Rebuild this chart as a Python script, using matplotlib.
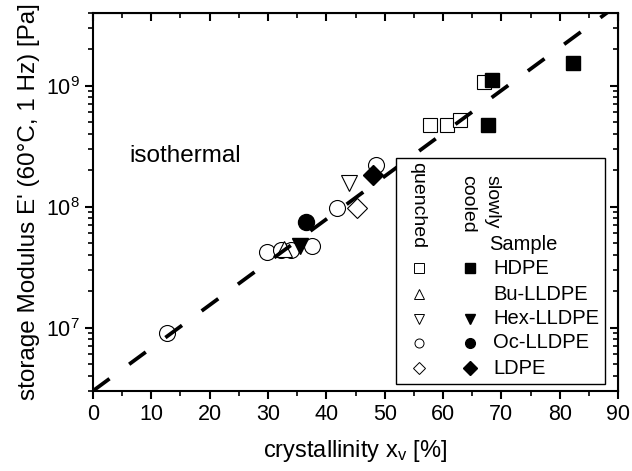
import numpy as np
import matplotlib
matplotlib.use("Agg")
import matplotlib.pyplot as plt
from matplotlib.lines import Line2D

plt.rcParams['font.family'] = ['Liberation Sans', 'DejaVu Sans']
plt.rcParams['mathtext.fontset'] = 'custom'
plt.rcParams['mathtext.rm'] = 'Liberation Sans'
plt.rcParams['mathtext.it'] = 'Liberation Sans'

# quenched samples (open symbols)
q_hdpe_x = [57.8, 60.7, 62.9, 67.0]
q_hdpe_y = [4.76e8, 4.76e8, 5.24e8, 1.08e9]
q_bu_x = [32.7]
q_bu_y = [4.5e7]
q_hex_x = [43.9]
q_hex_y = [1.58e8]
q_oc_x = [12.7, 29.8, 32.2, 33.9, 37.5, 41.8, 48.5]
q_oc_y = [9.1e6, 4.25e7, 4.4e7, 4.35e7, 4.7e7, 9.8e7, 2.2e8]
q_ldpe_x = [45.3]
q_ldpe_y = [9.8e7]

# slowly cooled samples (filled symbols)
s_hdpe_x = [67.7, 68.4, 82.3]
s_hdpe_y = [4.76e8, 1.12e9, 1.55e9]
s_hex_x = [35.5]
s_hex_y = [4.7e7]
s_oc_x = [36.5]
s_oc_y = [7.4e7]
s_ldpe_x = [48.0]
s_ldpe_y = [1.84e8]

# dashed guide line
line_x = [0, 90]
line_y = [3.0e6, 4.67e9]

samples = ['HDPE', 'Bu-LLDPE', 'Hex-LLDPE', 'Oc-LLDPE', 'LDPE']

fig = plt.figure(figsize=(6.32, 4.71), dpi=100)
ax = fig.add_axes([0.147, 0.170, 0.831, 0.803])

ax.plot(line_x, line_y, color='black', lw=2.7, ls=(0, (5.5, 6.5)), zorder=4)

ow = 0.8
ax.plot(q_oc_x, q_oc_y, 'o', ms=11.5, mfc='white', mec='black', mew=ow, zorder=2)
ax.plot(q_bu_x, q_bu_y, '^', ms=11, mfc='white', mec='black', mew=ow, zorder=2)
ax.plot(q_hex_x, q_hex_y, 'v', ms=12, mfc='white', mec='black', mew=ow, zorder=2)
ax.plot(q_ldpe_x, q_ldpe_y, 'D', ms=10, mfc='white', mec='black', mew=ow, zorder=2)
ax.plot(q_hdpe_x, q_hdpe_y, 's', ms=10, mfc='white', mec='black', mew=ow, zorder=2)

ax.plot(s_hdpe_x, s_hdpe_y, 's', ms=10.5, color='black', zorder=3)
ax.plot(s_hex_x, s_hex_y, 'v', ms=12, color='black', zorder=3)
ax.plot(s_oc_x, s_oc_y, 'o', ms=11.5, color='black', zorder=3)
ax.plot(s_ldpe_x, s_ldpe_y, 'D', ms=10, color='black', zorder=3)

ax.set_xlim(0, 90)
ax.set_yscale('log')
ax.set_ylim(3e6, 4e9)
ax.set_xticks(np.arange(0, 91, 10))
ax.set_xticks(np.arange(5, 90, 10), minor=True)

for s in ax.spines.values():
    s.set_linewidth(1.5)
ax.tick_params(which='major', direction='out', length=6, width=1.5, labelsize=15.5, top=False, right=False)
ax.tick_params(which='minor', direction='out', length=3.5, width=1.2, top=False, right=False)

# inward ticks on top and right
top = ax.secondary_xaxis('top')
top.set_xticks(np.arange(0, 91, 10))
top.set_xticks(np.arange(5, 90, 10), minor=True)
top.tick_params(which='major', direction='in', length=6, width=1.5, labeltop=False)
top.tick_params(which='minor', direction='in', length=3.5, width=1.2)
right = ax.secondary_yaxis('right')
right.tick_params(which='major', direction='in', length=6, width=1.5, labelright=False)
right.tick_params(which='minor', direction='in', length=3.5, width=1.2, labelright=False)

ax.set_xlabel(r'crystallinity x$_\mathrm{v}$ [%]', fontsize=17, labelpad=9)
ax.set_ylabel("storage Modulus E' (60°C, 1 Hz) [Pa]", fontsize=17.5, labelpad=4)

ax.text(0.07, 0.62, 'isothermal', transform=ax.transAxes, fontsize=17.5,
        ha='left', va='center')

# legend box (white, covers the dashed line)
box = plt.Rectangle((396, 471 - 384), 209, 226, transform=None, facecolor='white',
                    edgecolor='black', lw=1.0, zorder=5)
fig.patches.append(box)

def px(x, y):
    return x / 632, 1 - y / 471

fig.text(*px(418, 162), 'quenched', rotation=-90, ha='center', va='top', fontsize=14, zorder=6)
fig.text(*px(468, 175), 'cooled', rotation=-90, ha='center', va='top', fontsize=14, zorder=6)
fig.text(*px(492, 175), 'slowly', rotation=-90, ha='center', va='top', fontsize=14, zorder=6)
fig.text(*px(489, 245), 'Sample', ha='left', va='center', fontsize=14.5, zorder=6)

rows_y = [268, 294, 319, 343, 368]
open_m = ['s', '^', 'v', 'o', 'D']
filled_m = ['s', None, 'v', 'o', 'D']
for name, yy, om, fm in zip(samples, rows_y, open_m, filled_m):
    xo, yo = px(419, yy)
    fig.add_artist(Line2D([xo], [yo], marker=om, ms=6.5, mfc='white', mec='black',
                          mew=0.7, transform=fig.transFigure, zorder=6))
    if fm is not None:
        xf, yf = px(470, yy)
        fig.add_artist(Line2D([xf], [yf], marker=fm, ms=7, color='black',
                              transform=fig.transFigure, zorder=6))
    fig.text(*px(493, yy), name, ha='left', va='center', fontsize=14.5, zorder=6)

fig.savefig('out.png', dpi=100)
